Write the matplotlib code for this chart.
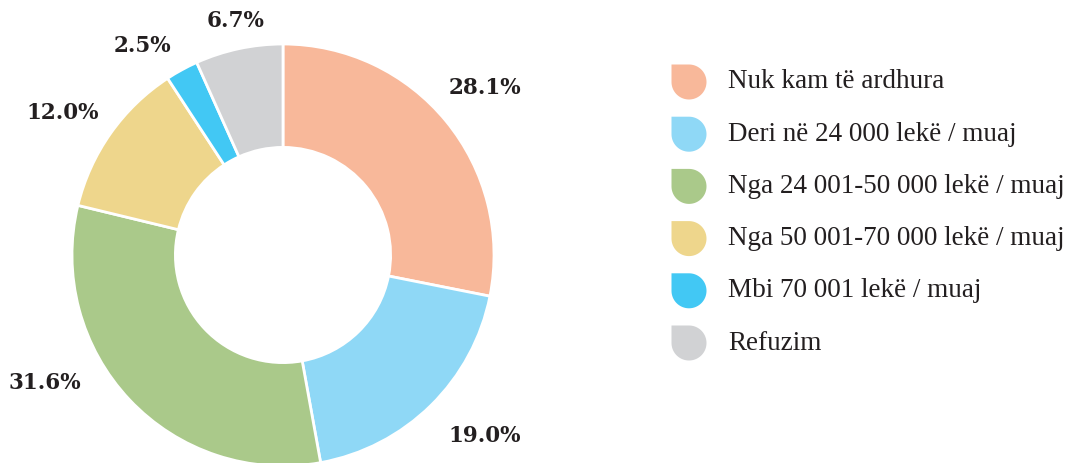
import matplotlib
matplotlib.use('Agg')
import matplotlib.pyplot as plt
from matplotlib.patches import Polygon
import numpy as np

categories = ["Nuk kam të ardhura",
              "Deri në 24 000 lekë / muaj",
              "Nga 24 001-50 000 lekë / muaj",
              "Nga 50 001-70 000 lekë / muaj",
              "Mbi 70 001 lekë / muaj",
              "Refuzim"]
values = [28.1, 19.0, 31.6, 12.0, 2.5, 6.7]
pct_labels = ["28.1%", "19.0%", "31.6%", "12.0%", "2.5%", "6.7%"]
colors = ["#F8B89A", "#8FD8F6", "#AAC98A", "#EED68C", "#42C8F4", "#D1D2D4"]

# label anchor points (pie data units, radius = 1)
label_pos = [(0.955, 0.79), (0.955, -0.86), (-1.128, -0.607),
             (-1.043, 0.673), (-0.664, 0.99), (-0.223, 1.11)]

txt_color = "#231F20"

fig = plt.figure(figsize=(10.81, 4.63), dpi=100)

# pie axes: center (283,255) px, radius 211 px
W, H = 1081, 463
cx, cy, r = 283, 255, 211
ax = fig.add_axes([(cx - r) / W, (H - cy - r) / H, 2 * r / W, 2 * r / H])
ax.pie(values, colors=colors, startangle=90, counterclock=False, radius=1,
       wedgeprops=dict(width=0.49, edgecolor='white', linewidth=2))
ax.set_xlim(-1, 1)
ax.set_ylim(-1, 1)
ax.set_aspect('auto')
ax.axis('off')

for (x, y), s in zip(label_pos, pct_labels):
    ax.text(x, y, s, ha='center', va='center', fontsize=15.5, fontweight='bold',
            family='DejaVu Serif', color=txt_color, clip_on=False)

# legend drawn on a pixel-space overlay
lg = fig.add_axes([0, 0, 1, 1])
lg.set_xlim(0, W)
lg.set_ylim(H, 0)
lg.axis('off')

mr = 17.5
ang = np.linspace(np.pi / 2, -np.pi, 60)
for i, (c, name) in enumerate(zip(colors, categories)):
    mx, my = 689, 82 + i * 52.2
    pts = [(mx - mr, my), (mx - mr, my - mr), (mx, my - mr)]
    pts += [(mx + mr * np.cos(a), my - mr * np.sin(a)) for a in ang]
    lg.add_patch(Polygon(pts, closed=True, facecolor=c, edgecolor='none'))
    lg.text(728, my, name, ha='left', va='center', fontsize=19.5,
            family='Liberation Serif', color=txt_color)

fig.savefig('out.png', dpi=100)
